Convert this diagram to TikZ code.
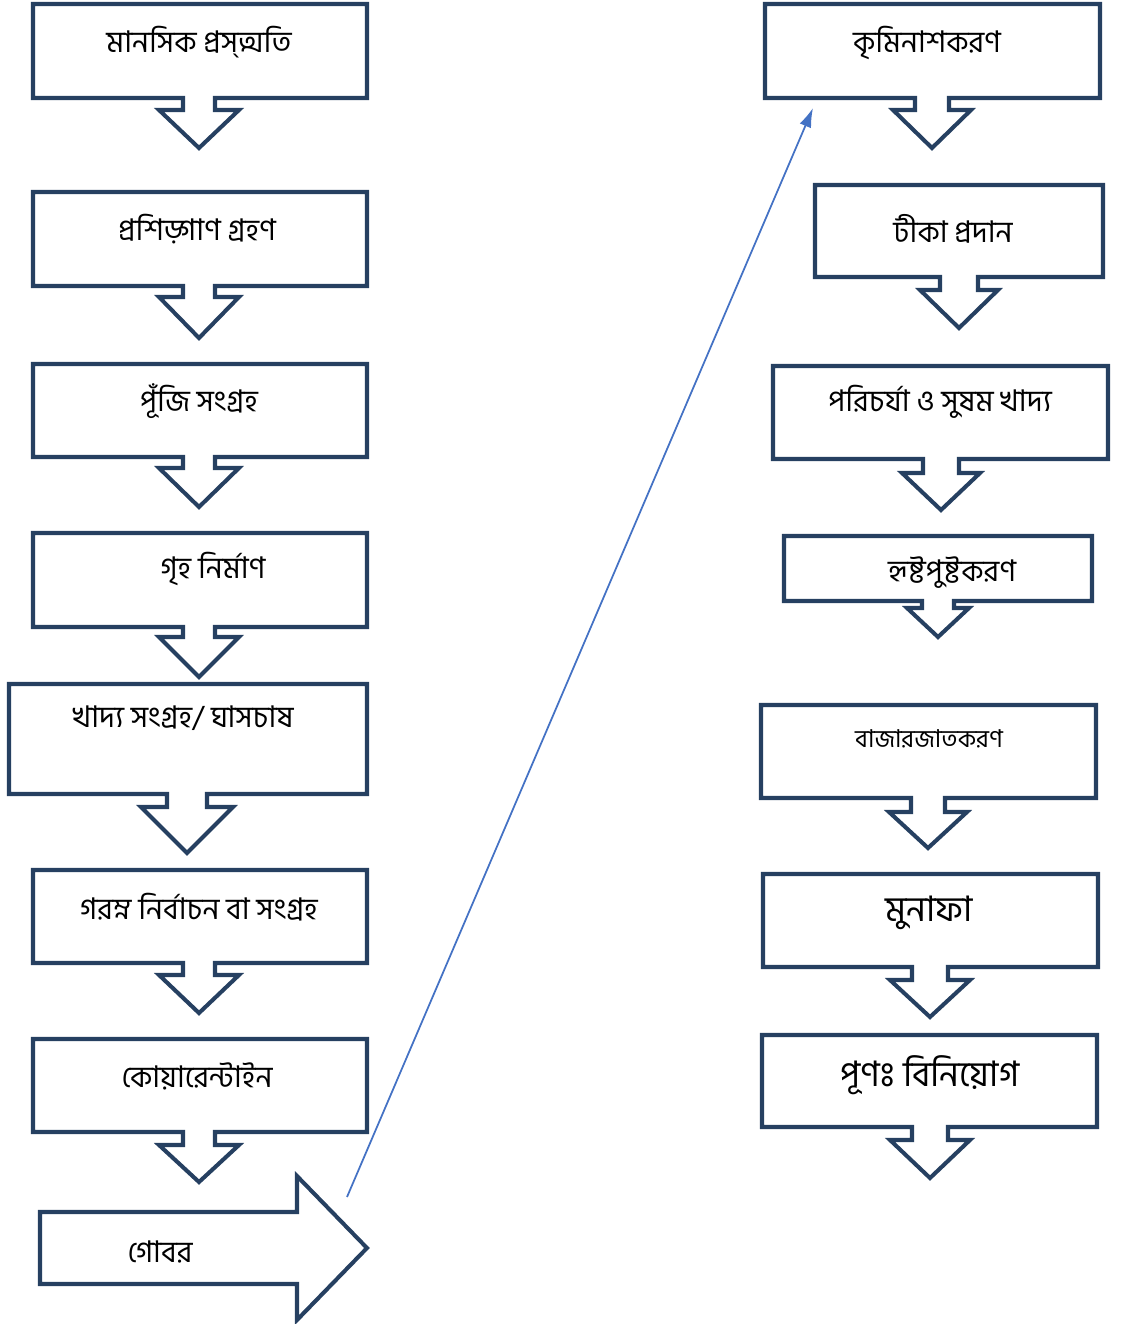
\documentclass[tikz,border=0pt]{standalone}
\usepackage{fontspec}
\newfontfamily\bnfont[Script=Bengali]{Hind Siliguri}
\usepackage{tikz}
\usetikzlibrary{arrows.meta}
\definecolor{navy}{RGB}{38,64,97}
\definecolor{linkblue}{RGB}{68,114,196}
\tikzset{
	boxline/.style={draw=navy, line width=2.3pt, miter limit=10, fill=white},
	lbl/.style={font=\bnfont\fontsize{17}{20}\selectfont, inner sep=0pt},
	lblsmall/.style={font=\bnfont\fontsize{14}{16}\selectfont, inner sep=0pt},
	lblbig/.style={font=\bnfont\fontsize{20}{23}\selectfont, inner sep=0pt},
	link/.style={draw=linkblue, line width=1pt, -{Latex[length=11pt, width=7pt]}}
}
% box with a down arrow: left, top, right, bottom, mid x, stem half, head top, tip, head half
\newcommand{\downbox}[9]{%
	\draw[boxline] (#1,#2) -- (#3,#2) -- (#3,#4) -- ({#5+#6},#4) -- ({#5+#6},#7)
	-- ({#5+#9},#7) -- (#5,#8) -- ({#5-#9},#7) -- ({#5-#6},#7) -- ({#5-#6},#4)
	-- (#1,#4) -- cycle;}

\begin{document}
\begin{tikzpicture}[x=0.02cm, y=-0.02cm]
	\useasboundingbox (0,0) rectangle (1121,1324);
	% left column
	\downbox{33}{4}{367}{98}{199}{16}{110}{148}{40}
	\node[lbl] (l1) at (199,42) {মানসিক প্রস্ত্মতি};
	\downbox{33}{192}{367}{286}{199}{16}{297}{338}{40}
	\node[lbl] (l2) at (197,229) {প্রশিড়্গাণ গ্রহণ};
	\downbox{33}{364}{367}{457}{199}{16}{468}{507}{40}
	\node[lbl] (l3) at (199,401) {পূঁজি সংগ্রহ};
	\downbox{33}{533}{367}{627}{199}{16}{637}{677}{40}
	\node[lbl] (l4) at (213,569) {গৃহ নির্মাণ};
	\downbox{9}{684}{367}{794}{187}{20}{807}{853}{46}
	\node[lbl] (l5) at (183,718) {খাদ্য সংগ্রহ/ ঘাসচাষ};
	\downbox{33}{870}{367}{963}{199}{16}{975}{1013}{40}
	\node[lbl] (l6) at (199,907) {গরম্ন নির্বাচন বা সংগ্রহ};
	\downbox{33}{1039}{367}{1132}{199}{16}{1145}{1182}{40}
	\node[lbl] (l7) at (197,1076) {কোয়ারেন্টাইন};
	% right arrow
	\draw[boxline] (40,1212) -- (297,1212) -- (297,1176) -- (367,1248) -- (297,1320)
	-- (297,1284) -- (40,1284) -- cycle;
	\node[lbl] (gobar) at (160,1252) {গোবর};
	% right column
	\downbox{765}{4}{1100}{98}{932}{17}{110}{148}{39}
	\node[lbl] (r1) at (927,43) {কৃমিনাশকরণ};
	\downbox{815}{185}{1103}{277}{959}{19}{290}{328}{39}
	\node[lbl] (r2) at (953,229) {টীকা প্রদান};
	\downbox{773}{366}{1108}{459}{941}{18}{473}{510}{39}
	\node[lbl] (r3) at (940,402) {পরিচর্যা ও সুষম খাদ্য};
	\downbox{784}{536}{1092}{601}{938}{16}{608}{637}{31}
	\node[lbl] (r4) at (952,573) {হৃষ্টপুষ্টকরণ};
	\downbox{761}{705}{1096}{798}{928}{17}{812}{848}{39}
	\node[lblsmall] (r5) at (929,739) {বাজারজাতকরণ};
	\downbox{763}{874}{1098}{967}{930}{18}{980}{1017}{40}
	\node[lblbig] (r6) at (929,913) {মুনাফা};
	\downbox{762}{1035}{1097}{1127}{930}{18}{1140}{1178}{40}
	\node[lblbig] (r7) at (930,1075) {পূণঃ বিনিয়োগ};
	% link
	\coordinate (linkfrom) at (347,1197);
	\coordinate (linkto) at (813,108);
	\draw[link] (linkfrom) -- (linkto);
\end{tikzpicture}
\end{document}
